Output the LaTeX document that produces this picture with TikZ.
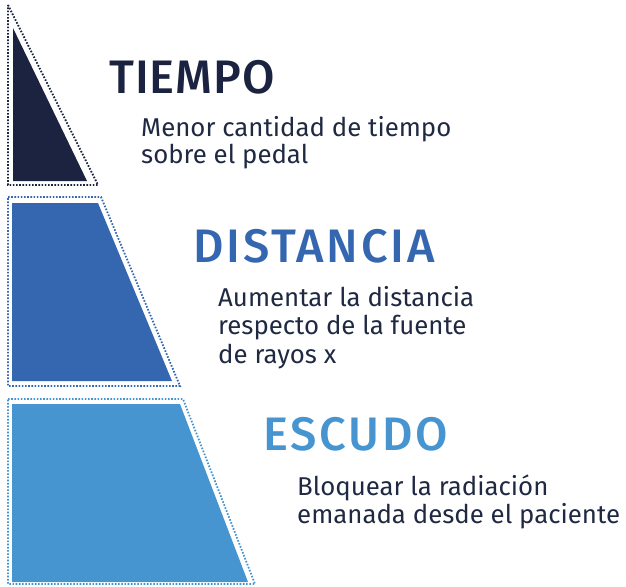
\documentclass[tikz,border=0pt]{standalone}
\usepackage{fontspec}
\setmainfont{Fira Sans}
\newfontfamily\titlefont{Fira Sans Medium}[LetterSpace=2]
\newfontfamily\titlefontwide{Fira Sans Medium}[LetterSpace=6]
\definecolor{cNavy}{HTML}{1B2340}
\definecolor{cMid}{HTML}{3567B0}
\definecolor{cLight}{HTML}{4694D0}
\definecolor{cText}{HTML}{1F2942}
\begin{document}
\begin{tikzpicture}[x=1pt,y=-1pt,
  dotline/.style={line width=1.8pt, dash pattern=on 1.6pt off 1.6pt},
  title/.style={anchor=base west, inner sep=0pt, font=\fontsize{47}{50}\selectfont\titlefont},
  titlewide/.style={title, font=\fontsize{47}{50}\selectfont\titlefontwide},
  body/.style={anchor=base west, inner sep=0pt, text=cText, font=\fontsize{25.8}{28}\selectfont}]
\useasboundingbox (0,0) rectangle (626,586);
% level 1
\draw[dotline, cNavy] (8,5) -- (98,185) -- (8,185) -- cycle;
\fill[cNavy] (13,28) -- (87,181) -- (13,181) -- cycle;
% level 2
\draw[dotline, cMid] (8,197) -- (101,197) -- (180,386) -- (8,386) -- cycle;
\fill[cMid] (12,203) -- (98,203) -- (172,381) -- (12,381) -- cycle;
% level 3
\draw[dotline, cLight] (8,399) -- (183,399) -- (255,584) -- (8,584) -- cycle;
\fill[cLight] (12,404) -- (180,404) -- (248,582) -- (12,582) -- cycle;
% texts
\node[title, text=cNavy] (t1) at (109,93) {TIEMPO};
\node[body] (b1a) at (141,136) {Menor cantidad de tiempo};
\node[body] (b1b) at (141,163) {sobre el pedal};
\node[titlewide, text=cMid] (t2) at (193,262) {DISTANCIA};
\node[body] (b2a) at (218,306) {Aumentar la distancia};
\node[body] (b2b) at (218,334) {respecto de la fuente};
\node[body] (b2c) at (218,363) {de rayos x};
\node[titlewide, text=cLight] (t3) at (263,450) {ESCUDO};
\node[body] (b3a) at (297,495) {Bloquear la radiación};
\node[body] (b3b) at (297,523) {emanada desde el paciente};
\end{tikzpicture}
\end{document}
